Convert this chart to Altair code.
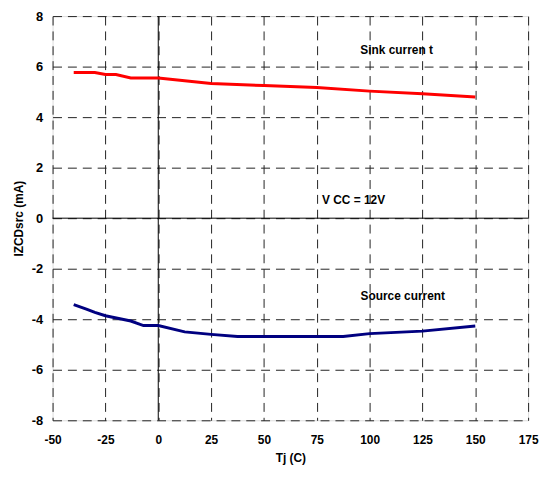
import altair as alt
import pandas as pd

sink_x = [-40, -30, -25, -20, -13, 0, 25, 50, 75, 100, 125, 150]
sink_y = [5.77, 5.77, 5.69, 5.69, 5.55, 5.55, 5.33, 5.25, 5.17, 5.03, 4.93, 4.80]
source_x = [-40, -34, -30, -25, -13, -7, 0, 12.5, 25, 37.5, 87.5, 100, 125, 150]
source_y = [-3.42, -3.6, -3.73, -3.86, -4.07, -4.25, -4.25, -4.5, -4.6, -4.68, -4.68, -4.57, -4.47, -4.27]
x_ticks = [-50, -25, 0, 25, 50, 75, 100, 125, 150, 175]
y_ticks = [-8, -6, -4, -2, 0, 2, 4, 6, 8]

labels_text = ["Sink curren t", "V CC = 12V", "Source current"]
labels_x = [95.6, 77.5, 95.7]
labels_y = [6.66, 0.72, -3.1]

rows = [{"Tj": x, "I": y, "series": "Sink current"} for x, y in zip(sink_x, sink_y)]
rows += [{"Tj": x, "I": y, "series": "Source current"} for x, y in zip(source_x, source_y)]
df = pd.DataFrame(rows)
df_text = pd.DataFrame({"t": labels_text, "x": labels_x, "y": labels_y})

FONT = "Liberation Sans"

xscale = alt.Scale(domain=[-50, 175], nice=False, zero=False)
yscale = alt.Scale(domain=[-8, 8], nice=False, zero=False)

xaxis = alt.Axis(values=x_ticks, title="Tj (C)", grid=True, ticks=False, domain=False,
                 labelExpr="'' + datum.value",
                 labelFont=FONT, labelFontWeight="bold", labelFontSize=12, labelColor="#000",
                 labelPadding=14, titleFont=FONT, titleFontWeight="bold", titleFontSize=12,
                 titleColor="#000", titlePadding=8,
                 gridColor="#222", gridDash=[9, 6], gridWidth=1, gridOpacity=1,
                 labelFlush=False)
yaxis = alt.Axis(values=y_ticks, title="IZCDsrc (mA)", grid=True, ticks=False, domain=False,
                 labelExpr="'' + datum.value",
                 labelFont=FONT, labelFontWeight="bold", labelFontSize=13, labelColor="#000",
                 labelPadding=10, titleFont=FONT, titleFontWeight="bold", titleFontSize=12,
                 titleColor="#000", titlePadding=6,
                 gridColor="#222", gridDash=[9, 6], gridWidth=1, gridOpacity=1,
                 labelFlush=False)

lines = alt.Chart(df).mark_line(strokeWidth=3).encode(
    x=alt.X("Tj:Q", scale=xscale, axis=xaxis),
    y=alt.Y("I:Q", scale=yscale, axis=yaxis),
    color=alt.Color("series:N", scale=alt.Scale(domain=["Sink current", "Source current"],
                                                range=["#FF0000", "#000080"]), legend=None),
)

zero = pd.DataFrame({"v": [0]})
vrule = alt.Chart(zero).mark_rule(color="#000", strokeWidth=1).encode(x=alt.X("v:Q", scale=xscale))
hrule = alt.Chart(zero).mark_rule(color="#000", strokeWidth=1).encode(y=alt.Y("v:Q", scale=yscale))

texts = alt.Chart(df_text).mark_text(align="left", baseline="middle", font=FONT,
                                     fontWeight="bold", fontSize=12, color="#000").encode(
    x=alt.X("x:Q", scale=xscale), y=alt.Y("y:Q", scale=yscale), text="t:N")

chart = alt.layer(vrule, hrule, lines, texts).properties(
    width=480, height=408,
    autosize=alt.AutoSizeParams(type="none"),
    padding={"left": 45, "top": 6, "right": 12, "bottom": 46},
).configure_view(stroke="#888", strokeWidth=1.5).configure(background="white")

chart.save("out.html", embed_options={"renderer": "svg", "actions": False})
